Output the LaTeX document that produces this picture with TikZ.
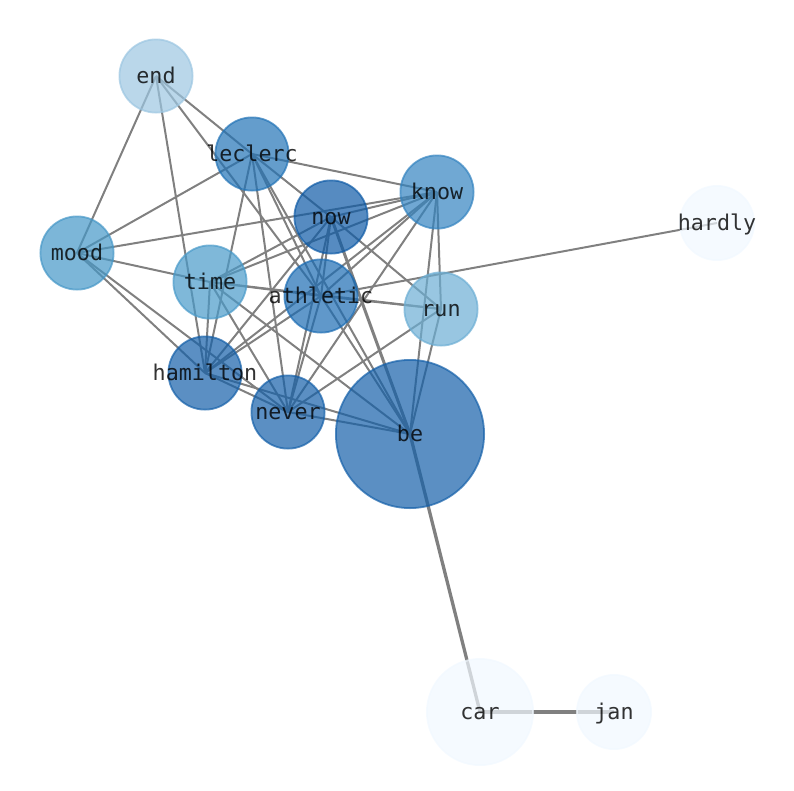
\documentclass[tikz,border=0pt]{standalone}
\usepackage{fontspec}
\newfontfamily\lbl{DejaVu Sans Mono}
\definecolor{egray}{RGB}{128,128,128}
\definecolor{cbe}{RGB}{21,96,169}
\definecolor{cnow}{RGB}{14,90,166}
\definecolor{cham}{RGB}{21,96,169}
\definecolor{cnev}{RGB}{21,96,169}
\definecolor{clec}{RGB}{34,115,182}
\definecolor{cath}{RGB}{28,108,179}
\definecolor{ckno}{RGB}{51,131,192}
\definecolor{cmoo}{RGB}{69,151,199}
\definecolor{ctim}{RGB}{73,154,201}
\definecolor{crun}{RGB}{108,174,212}
\definecolor{cend}{RGB}{156,198,225}
\definecolor{cpale}{RGB}{241,248,255}
\pgfdeclarelayer{bg}
\pgfsetlayers{bg,main}
\tikzset{
  vnode/.style={circle, inner sep=0pt, minimum size=73.2pt, line width=1.8pt,
    fill=#1, draw=#1, fill opacity=0.7, draw opacity=0.7},
  lab/.style={inner sep=0pt, font=\lbl\fontsize{21.7}{26}\selectfont,
    text=black, text opacity=0.8, text height=16.5pt, text depth=5.1pt, yshift=-2pt},
  edge/.style={draw=egray, line width=2pt},
  wedge/.style={draw=egray, line width=3.3pt},
}
\begin{document}
\begin{tikzpicture}[x=1pt,y=-1pt]
\useasboundingbox (0,0) rectangle (794,790);
% nodes
\node[vnode=cend] (end) at (156,76) {};
\node[vnode=clec] (leclerc) at (252,154) {};
\node[vnode=cnow] (now) at (331,217) {};
\node[vnode=ckno] (know) at (437,192) {};
\node[vnode=cpale, minimum size=74.2pt] (hardly) at (717,223) {};
\node[vnode=cmoo] (mood) at (77,253) {};
\node[vnode=ctim] (time) at (210,282) {};
\node[vnode=cath] (athletic) at (321,296) {};
\node[vnode=crun] (run) at (441,309) {};
\node[vnode=cham] (hamilton) at (205,373) {};
\node[vnode=cnev] (never) at (288,412) {};
\node[vnode=cbe, minimum size=148.2pt] (be) at (410,434) {};
\node[vnode=cpale, minimum size=106.2pt] (car) at (480,712) {};
\node[vnode=cpale, minimum size=74.2pt] (jan) at (614,712) {};
% labels
\node[lab] (end-t) at (end) {end};
\node[lab] (leclerc-t) at (leclerc) {leclerc};
\node[lab] (now-t) at (now) {now};
\node[lab] (know-t) at (know) {know};
\node[lab] (hardly-t) at (hardly) {hardly};
\node[lab] (mood-t) at (mood) {mood};
\node[lab] (time-t) at (time) {time};
\node[lab] (athletic-t) at (athletic) {athletic};
\node[lab] (run-t) at (run) {run};
\node[lab] (hamilton-t) at (hamilton) {hamilton};
\node[lab] (never-t) at (never) {never};
\node[lab] (be-t) at (be) {be};
\node[lab] (car-t) at (car) {car};
\node[lab] (jan-t) at (jan) {jan};
% edges
\begin{pgfonlayer}{bg}
\foreach \a/\b in {end/mood, end/leclerc, end/hamilton, end/athletic,
  leclerc/now, leclerc/know, leclerc/mood, leclerc/hamilton, leclerc/never, leclerc/athletic, leclerc/be,
  now/know, now/time, now/hamilton, now/athletic, now/never, now/run,
  mood/know,
  know/time, know/hamilton, know/athletic, know/never, know/be, know/run,
  mood/time, mood/hamilton, mood/never,
  time/athletic, time/run, time/hamilton, time/never, time/be,
  athletic/run, athletic/hardly, athletic/hamilton, athletic/never, athletic/be,
  run/be, run/never, hamilton/never, hamilton/be, never/be}
  {\draw[edge] (\a.center) -- (\b.center);}
\draw[line width=3pt, draw=egray] (now.center) -- (be.center);
\draw[wedge] (be.center) -- (car.center);
\draw[wedge] (car.center) -- (jan.center);
\end{pgfonlayer}
\end{tikzpicture}
\end{document}
